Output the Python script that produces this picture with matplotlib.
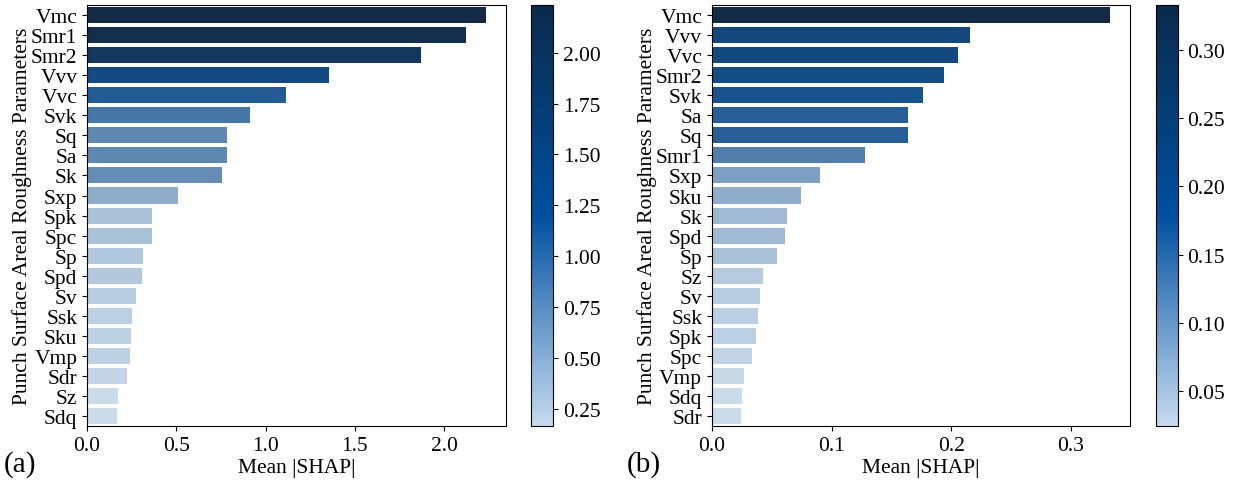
import matplotlib
matplotlib.use("Agg")
import matplotlib.pyplot as plt
import numpy as np
from matplotlib.colors import LinearSegmentedColormap, Normalize, to_rgb
from matplotlib.ticker import MultipleLocator
import colorsys

plt.rcParams['font.family'] = ['Liberation Serif', 'DejaVu Serif']
plt.rcParams['font.size'] = 15.5

# ----- data (a) -----
params_a = ['Vmc', 'Smr1', 'Smr2', 'Vvv', 'Vvc', 'Svk', 'Sq', 'Sa', 'Sk', 'Sxp', 'Spk',
            'Spc', 'Sp', 'Spd', 'Sv', 'Ssk', 'Sku', 'Vmp', 'Sdr', 'Sz', 'Sdq']
shap_a = [2.234, 2.122, 1.870, 1.354, 1.113, 0.911, 0.783, 0.783, 0.755, 0.508, 0.362,
          0.362, 0.312, 0.306, 0.273, 0.250, 0.245, 0.239, 0.222, 0.172, 0.166]

# ----- data (b) -----
params_b = ['Vmc', 'Vvv', 'Vvc', 'Smr2', 'Svk', 'Sa', 'Sq', 'Smr1', 'Sxp', 'Sku', 'Sk',
            'Spd', 'Sp', 'Sz', 'Sv', 'Ssk', 'Spk', 'Spc', 'Vmp', 'Sdq', 'Sdr']
shap_b = [0.3328, 0.2153, 0.2053, 0.1936, 0.1761, 0.1636, 0.1636, 0.1278, 0.0903, 0.0744, 0.0628,
          0.0611, 0.0544, 0.0428, 0.0403, 0.0386, 0.0369, 0.0336, 0.0269, 0.0253, 0.0244]

cmap = LinearSegmentedColormap.from_list('shap_blues', ['#c6dbef', '#0050a0', '#0a2a4b'])


def desat(c, prop=0.75):
    h, l, s = colorsys.rgb_to_hls(*to_rgb(c))
    return colorsys.hls_to_rgb(h, l, s * prop)


def shap_panel(fig, ax_rect, cb_rect, names, vals, letter, letter_x, xstep):
    ax = fig.add_axes(ax_rect)
    cax = fig.add_axes(cb_rect)
    vals = np.asarray(vals)
    norm = Normalize(vmin=vals.min(), vmax=vals.max())
    colors = [desat(cmap(norm(v))) for v in vals]
    y = np.arange(len(names))
    ax.barh(y, vals, height=0.8, color=colors)
    ax.set_yticks(y)
    ax.set_yticklabels(names)
    ax.set_ylim(len(names) - 0.5, -0.5)
    ax.set_xlim(0, vals.max() * 1.05)
    ax.xaxis.set_major_locator(MultipleLocator(xstep))
    ax.set_xlabel('Mean |SHAP|', labelpad=2)
    ax.set_ylabel('Punch Surface Areal Roughness Parameters', labelpad=-1)
    sm = plt.cm.ScalarMappable(cmap=cmap, norm=norm)
    fig.colorbar(sm, cax=cax)
    fig.text(letter_x, 0.035, letter, fontsize=21, ha='left', va='center')
    return ax


fig = plt.figure(figsize=(12.33, 4.81), dpi=100)
shap_panel(fig, [0.0706, 0.112, 0.3397, 0.8755], [0.4307, 0.112, 0.0178, 0.8755],
           params_a, shap_a, '(a)', 0.003, 0.5)
shap_panel(fig, [0.5774, 0.112, 0.3391, 0.8755], [0.9375, 0.112, 0.0178, 0.8755],
           params_b, shap_b, '(b)', 0.508, 0.1)

fig.savefig('out.png', dpi=100)
